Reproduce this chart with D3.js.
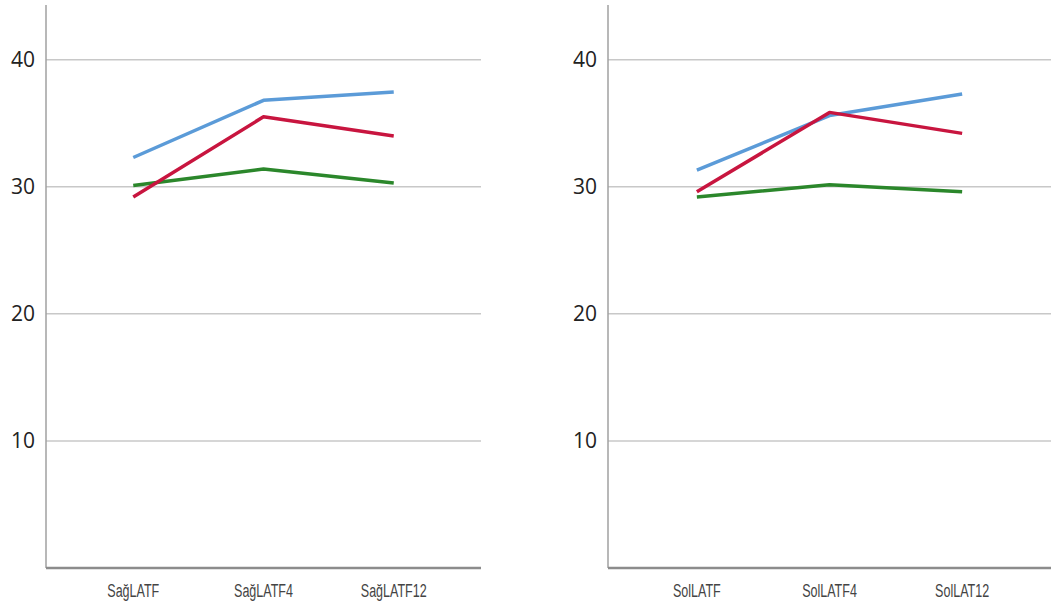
<!DOCTYPE html>
<html>
<head>
<meta charset="utf-8">
<script src="https://cdn.jsdelivr.net/npm/d3@7"></script>
<style>
  body { margin: 0; background: #fff; }
</style>
</head>
<body>
<div id="chart"></div>
<script>
// values
var yTicks = [10, 20, 30, 40];

var leftCats = ['SağLATF', 'SağLATF4', 'SağLATF12'];
var leftBlue = [32.3, 36.8, 37.45];
var leftRed = [29.2, 35.5, 34.0];
var leftGreen = [30.1, 31.4, 30.3];

var rightCats = ['SolLATF', 'SolLATF4', 'SolLAT12'];
var rightBlue = [31.3, 35.6, 37.3];
var rightRed = [29.6, 35.85, 34.2];
var rightGreen = [29.2, 30.15, 29.6];

var colors = { blue: '#5b9bd8', red: '#c8153f', green: '#2b872b' };

var width = 1052, height = 608;

var svg = d3.select('#chart')
    .append('svg')
    .attr('width', width)
    .attr('height', height);

var y = d3.scaleLinear()
    .domain([0, 44.3])
    .range([568, 5]);

function panel(x0, x1, cats, series) {
    var g = svg.append('g');

    var x = d3.scalePoint()
        .domain(cats)
        .range([x0, x1])
        .padding(0.67);

    // gridlines
    g.selectAll('line.grid')
        .data(yTicks)
        .enter()
        .append('line')
        .attr('class', 'grid')
        .attr('x1', x0)
        .attr('x2', x1)
        .attr('y1', function(d) { return y(d); })
        .attr('y2', function(d) { return y(d); })
        .style('stroke', '#c8c8c8')
        .style('stroke-width', 1.5);

    // y tick labels
    g.selectAll('text.ytick')
        .data(yTicks)
        .enter()
        .append('text')
        .attr('class', 'ytick')
        .attr('x', x0 - 11)
        .attr('y', function(d) { return y(d); })
        .attr('dy', '0.36em')
        .attr('text-anchor', 'end')
        .style('font-family', '"Open Sans", sans-serif')
        .style('font-size', '21px')
        .style('fill', '#222')
        .text(function(d) { return d; });

    // axis lines
    g.append('line')
        .attr('x1', x0).attr('x2', x0)
        .attr('y1', y.range()[1]).attr('y2', y(0))
        .style('stroke', '#a0a0a0')
        .style('stroke-width', 1.5);
    g.append('line')
        .attr('x1', x0).attr('x2', x1)
        .attr('y1', y(0)).attr('y2', y(0))
        .style('stroke', '#8c8c8c')
        .style('stroke-width', 2.5);

    // category labels (narrow, tall lettering)
    g.selectAll('text.xtick')
        .data(cats)
        .enter()
        .append('text')
        .attr('class', 'xtick')
        .attr('transform', function(d) { return `translate(${x(d)}, 597) scale(0.66, 1)`; })
        .attr('text-anchor', 'middle')
        .style('font-family', '"Liberation Sans", Arial, sans-serif')
        .style('font-size', '19px')
        .style('fill', '#444')
        .text(function(d) { return d; });

    var line = d3.line()
        .x(function(d, i) { return x(cats[i]); })
        .y(function(d) { return y(d); });

    series.forEach(function(s) {
        g.append('path')
            .datum(s.values)
            .attr('d', line)
            .style('fill', 'none')
            .style('stroke', s.color)
            .style('stroke-width', 3.5)
            .style('stroke-linejoin', 'round');
    });
}

panel(46, 481, leftCats, [
    { values: leftGreen, color: colors.green },
    { values: leftRed, color: colors.red },
    { values: leftBlue, color: colors.blue }
]);

panel(608, 1051, rightCats, [
    { values: rightGreen, color: colors.green },
    { values: rightBlue, color: colors.blue },
    { values: rightRed, color: colors.red }
]);
</script>
</body>
</html>
